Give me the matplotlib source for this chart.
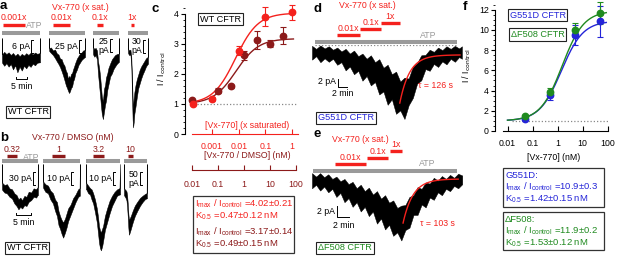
import numpy as np
import matplotlib
matplotlib.use('Agg')
import matplotlib.pyplot as plt
from matplotlib.patches import Rectangle
from matplotlib.transforms import blended_transform_factory
from matplotlib.ticker import LogLocator, MultipleLocator, NullFormatter

plt.rcParams['font.family'] = ['Liberation Sans', 'DejaVu Sans']
plt.rcParams['mathtext.default'] = 'regular'
plt.rcParams['font.size'] = 6.3

RED = '#f4211d'
DRED = '#8c1a1a'
GRAY = '#9a9a9a'
BLUE = '#2424d8'
GREEN = '#1f8a1f'

# ---------------- data ----------------
# panel a: WT CFTR, Vx-770 (x saturated), time in min, current in pA
a_doses = ['0.001x', '0.01x', '0.1x', '1x']
a_on = [0.5, 1.8, 1.8, 1.4]
a_off = [10.5, 9.5, 4.5, 2.5]
a_scale = [6, 25, 25, 30]
a1_t = [0, 0.1, 1.0, 2.0, 3.0, 4.0, 5.0, 6.0, 7.0, 8.0, 9.0, 10.0, 11.0, 12.0, 13.0, 14.0, 15.0, 16.0, 17.2, 17.3]
a1_hi = [0, -7.5, -6.4, -7.4, -6.6, -7.8, -6.9, -8.2, -7.2, -8.4, -7.3, -8.1, -7.0, -7.8, -6.8, -7.6, -6.7, -7.3, -6.9, 0]
a1_lo = [-11, -11.5, -12.8, -11.6, -13.2, -12.0, -14.5, -12.6, -15.8, -13.2, -15.0, -12.8, -14.0, -12.4, -13.3, -11.8, -12.6, -11.4, -11.2, -11.2]
a2_t = [0, 0.1, 0.9, 1.8, 2.7, 3.6, 4.3, 5.0, 5.7, 6.4, 7.0, 7.7, 8.2, 8.6, 9.1, 9.5, 10.0, 10.5, 11.0, 11.4,
        12.0, 12.7, 13.4, 14.1, 14.8, 15.5, 16.3, 16.4]
a2_hi = [0, -20, -19, -25, -23, -31, -33, -41, -42, -51, -55, -66, -70, -82, -76, -80, -72, -70, -62, -57,
         -49, -41, -36, -31, -29, -25, -24, 0]
a2_lo = [-20, -26, -30, -34, -40, -47, -52, -58, -66, -75, -84, -95, -100, -105, -110, -107, -100, -97, -86, -82,
         -70, -63, -54, -49, -44, -41, -38, -38]
a3_t = [0, 0.1, 0.6, 1.2, 1.8, 2.3, 2.8, 3.2, 3.6, 4.0, 4.5, 5.0, 5.5, 5.9, 6.5, 7.0, 7.8, 8.6, 9.3, 10.0, 10.8, 11.7, 11.8]
a3_hi = [0, -18, -21, -19, -24, -45, -58, -72, -92, -112, -122, -98, -90, -76, -68, -58, -49, -41, -37, -33, -31, -30, 0]
a3_lo = [-30, -32, -36, -33, -41, -70, -92, -110, -130, -146, -156, -142, -128, -121, -100, -90, -74, -68, -60, -55, -50, -46, -46]
a4_t = [0, 0.1, 0.6, 1.1, 1.5, 1.8, 2.1, 2.3, 2.6, 2.9, 3.4, 4.0, 4.6, 5.3, 6.0, 6.7, 7.4, 8.2, 9.0, 9.1]
a4_hi = [0, -26, -29, -27, -45, -90, -140, -165, -140, -126, -110, -96, -86, -74, -66, -60, -54, -47, -44, 0]
a4_lo = [-34, -36, -40, -38, -65, -130, -190, -208, -196, -176, -160, -138, -118, -106, -94, -84, -76, -66, -60, -60]

# panel b: WT CFTR, Vx-770 / DMSO (nM)
b_doses = ['0.32', '1', '3.2', '10']
b_on = [1.6, 2.9, 2.3, 1.3]
b_off = [4.8, 7.1, 5.8, 2.9]
b_scale = [30, 10, 10, 50]
b1_t = [0, 0.1, 0.8, 1.6, 2.4, 3.2, 4.0, 4.7, 5.3, 5.9, 6.5, 7.2, 7.9, 8.6, 9.4, 10.2, 11.0, 11.5, 11.6]
b1_hi = [0, -45, -50, -48, -58, -60, -70, -74, -84, -80, -86, -76, -78, -66, -68, -58, -60, -55, 0]
b1_lo = [-60, -62, -68, -70, -78, -82, -94, -100, -108, -102, -106, -98, -100, -90, -86, -78, -80, -74, -74]
b2_t = [0, 0.1, 0.8, 1.6, 2.4, 3.2, 3.9, 4.5, 5.0, 5.5, 6.0, 6.5, 7.1, 7.6, 8.1, 8.9, 9.7, 10.5, 11.3, 11.8, 11.9]
b2_hi = [0, -14, -16, -17, -21, -23, -28, -30, -37, -41, -44, -46, -43, -39, -35, -32, -27, -24, -20, -19, 0]
b2_lo = [-18, -19, -22, -23, -28, -31, -37, -41, -48, -51, -55, -58, -54, -50, -45, -40, -35, -30, -26, -25, -25]
b3_t = [0, 0.1, 0.7, 1.3, 1.8, 2.3, 2.9, 3.5, 3.9, 4.2, 4.5, 4.8, 5.2, 5.5, 6.1, 6.8, 7.6, 8.4, 9.2, 10.0, 10.8, 11.0]
b3_hi = [0, -15, -17, -19, -20, -23, -28, -35, -42, -49, -52, -54, -51, -49, -41, -35, -29, -25, -22, -20, -19, 0]
b3_lo = [-20, -20, -23, -24, -28, -31, -38, -46, -55, -62, -66, -68, -65, -61, -52, -46, -39, -33, -29, -25, -24, -24]
b4_t = [0, 0.1, 0.5, 0.8, 1.0, 1.2, 1.4, 1.6, 1.9, 2.2, 2.8, 3.5, 4.3, 5.2, 6.0, 6.8, 7.3, 7.4]
b4_hi = [0, -95, -100, -105, -120, -150, -190, -215, -208, -200, -180, -160, -145, -130, -122, -115, -112, 0]
b4_lo = [-120, -122, -130, -140, -165, -200, -245, -272, -262, -250, -225, -200, -180, -160, -146, -135, -132, -132]

# panel c: dose response, WT CFTR
sat_x = [0.0002, 0.001, 0.01, 0.1, 1]
sat_y = [1.0, 1.17, 2.77, 3.9, 4.04]
sat_err = [0.03, 0.07, 0.16, 0.32, 0.24]
dmso_x = [0.01, 0.1, 0.32, 1, 3.2, 10, 32]
dmso_y = [1.13, 1.44, 1.58, 2.61, 3.11, 3.0, 3.27]
dmso_err = [0.04, 0.08, 0.05, 0.15, 0.3, 0.12, 0.29]
sat_fit = (4.02, 0.47)
dmso_fit = (3.17, 0.49)

# panel d / e: mutant traces, sequential 0.01x, 0.1x, 1x
de_doses = ['0.01x', '0.1x', '1x']
d_on = [5.4, 10.3, 14.8]
d_off = [10.3, 14.8, 18.8]
d_t = [0, 0.9, 1.8, 2.7, 3.6, 4.5, 5.4, 6.3, 7.2, 8.1, 9.0, 9.9, 10.8, 11.7, 12.6, 13.5, 14.4, 15.3, 16.2,
       17.1, 18.0, 18.9, 19.8, 20.7, 21.6, 22.5, 23.4, 24.3, 25.2, 26.1, 27.0, 27.9, 28.8, 29.7, 30.6, 31.5, 32.1]
d_hi = [-0.2, -0.9, -0.1, -0.8, -0.3, -1.1, -0.6, -1.5, -0.9, -2.0, -1.3, -2.6, -2.0, -3.2, -2.4, -4.0, -3.3, -5.3, -4.6,
        -6.8, -6.2, -8.5, -7.6, -7.8, -5.0, -4.2, -2.4, -2.3, -1.1, -1.6, -0.6, -1.2, -0.3, -0.9, -0.2, -0.8, -0.3]
d_lo = [-3.4, -2.6, -4.0, -3.1, -3.9, -3.2, -4.6, -4.0, -5.9, -5.0, -6.8, -6.0, -8.3, -7.2, -9.4, -8.6, -11.5, -10.8, -13.9,
        -12.6, -16.0, -15.2, -17.2, -14.0, -12.3, -9.0, -8.2, -5.6, -6.0, -4.4, -5.1, -3.8, -4.5, -3.2, -3.9, -2.8, -3.2]
d_tau = 126
e_on = [4.0, 9.5, 13.4]
e_off = [9.3, 13.1, 15.6]
e_t = [0, 0.7, 1.4, 2.1, 2.8, 3.5, 4.2, 4.9, 5.6, 6.3, 7.0, 7.7, 8.4, 9.1, 9.8, 10.5, 11.2, 11.9, 12.6,
       13.3, 14.0, 14.7, 15.4, 16.1, 16.8, 17.5, 18.2, 18.9, 19.6, 20.3, 21.0, 21.7, 22.4, 23.1, 23.8, 24.5, 25.2, 25.9]
e_hi = [-0.2, -0.8, -0.2, -0.9, -0.4, -1.2, -0.8, -1.6, -1.2, -2.1, -1.7, -2.8, -2.2, -3.3, -2.7, -3.9, -3.3, -4.6, -4.0,
        -5.3, -4.9, -6.2, -5.8, -5.7, -4.3, -4.0, -2.6, -2.9, -1.8, -2.0, -1.0, -1.5, -0.7, -1.2, -0.5, -1.0, -0.3, -0.6]
e_lo = [-2.8, -2.2, -3.2, -2.5, -3.5, -2.9, -4.3, -3.6, -5.2, -4.5, -6.0, -5.2, -6.8, -6.0, -7.6, -6.8, -8.9, -8.0, -9.9,
        -9.1, -11.0, -10.4, -11.8, -10.0, -9.6, -7.4, -7.4, -5.6, -6.1, -4.4, -4.8, -3.5, -4.0, -2.9, -3.3, -2.4, -2.8, -2.1]
e_tau = 103

# panel f: mutant dose response (nM)
f_x = [0.05, 0.5, 5, 50]
g551d_y = [1.17, 3.55, 9.5, 10.85]
g551d_err = [0.1, 0.45, 0.95, 1.5]
df508_y = [1.45, 3.9, 10.0, 11.7]
df508_err = [0.1, 0.4, 0.65, 1.1]
g551d_fit = (10.9, 1.42)
df508_fit = (11.9, 1.53)

# ---------------- helpers ----------------
W, H = 617, 256
fig = plt.figure(figsize=(W / 100, H / 100), dpi=100)


def fbox(x0, y0, x1, y1):
    return [x0 / W, 1 - y1 / H, (x1 - x0) / W, (y1 - y0) / H]


def put(x, y, s, **kw):
    kw.setdefault('ha', 'center')
    kw.setdefault('va', 'center')
    return fig.text(x / W, 1 - y / H, s, **kw)


def frame(x0, y0, x1, y1, color='#333333', lw=0.9):
    fig.add_artist(Rectangle((x0 / W, 1 - y1 / H), (x1 - x0) / W, (y1 - y0) / H,
                             transform=fig.transFigure, fill=False, edgecolor=color, lw=lw))


def tagbox(x, y, s, color):
    put(x, y, s, color=color, fontsize=6.6,
        bbox=dict(boxstyle='square,pad=0.18', fc='white', ec='#222222', lw=0.8))


def hill(x, imax, k):
    return 1 + (imax - 1) * x / (x + k)


def segment(x0, y0, px_min, px_pA, t, hi, lo, depth):
    ax = fig.add_axes(fbox(x0, y0, x0 + t[-1] * px_min, y0 + depth * px_pA))
    ax.set_xlim(0, t[-1])
    ax.set_ylim(-depth, 0)
    ax.axis('off')
    ax.fill_between(t, lo, hi, color='k', lw=0.35, clip_on=False)
    ax.px_min = px_min
    ax.tr = blended_transform_factory(ax.transData, fig.transFigure)
    return ax


def app_bar(ax, t0, t1, ypx, color, lw, label=None, dy=7):
    ax.plot([t0, t1], [1 - ypx / H] * 2, color=color, lw=lw, solid_capstyle='butt',
            transform=ax.tr, clip_on=False)
    if label:
        ax.text((t0 + t1) / 2, 1 - (ypx - dy) / H, label, transform=ax.tr,
                ha='center', va='center', color=color)


def bracket(ax, t, top, size, label):
    tk = 2.2 / ax.px_min
    ax.plot([t + tk, t, t, t + tk], [top, top, top - size, top - size], color='k', lw=0.7,
            clip_on=False)
    ax.text(t - 1.2 / ax.px_min, top - size / 2, label, ha='right', va='center',
            multialignment='center', linespacing=1.0)


def time_bar(ax, t0, length, ypx, label):
    y = 1 - ypx / H
    up = 1.8 / H
    ax.plot([t0, t0, t0 + length, t0 + length], [y + up, y, y, y + up], color='k', lw=0.7,
            transform=ax.tr, clip_on=False)
    ax.text(t0 + length / 2, y - 7.5 / H, label, transform=ax.tr, ha='center', va='center')


# ---------------- panel a ----------------
a_traces = [(a1_t, a1_hi, a1_lo), (a2_t, a2_hi, a2_lo), (a3_t, a3_hi, a3_lo), (a4_t, a4_hi, a4_lo)]
a_x0 = [2, 49, 93, 128]
a_pxpa = [2.17, 0.5, 0.52, 0.43]
a_depth = [17, 115, 160, 212]
a_br = [(13.2, -0.9), (13.6, -4), (7.7, -2), (6.8, -4.6)]
a_ax = []
for i, (t, hi, lo) in enumerate(a_traces):
    ax = segment(a_x0[i], 38, 2.2, a_pxpa[i], t, hi, lo, a_depth[i])
    app_bar(ax, 0, t[-1], 33, GRAY, 2.9)
    app_bar(ax, a_on[i], a_off[i], 24.5, RED, 2.4, a_doses[i])
    lbl = f'{a_scale[i]} pA' if i < 2 else f'{a_scale[i]}\npA'
    bracket(ax, a_br[i][0], a_br[i][1], a_scale[i], lbl)
    a_ax.append(ax)
time_bar(a_ax[0], 6.4, 5, 79, '5 min')
put(80, 7, 'Vx-770 (x sat.)', color=RED)
put(34, 25.5, 'ATP', color=GRAY)
tagbox(28, 112, 'WT CFTR', 'k')
put(0, 9, 'a', ha='left', va='baseline', fontsize=9.5, fontweight='bold')

# ---------------- panel b ----------------
b_traces = [(b1_t, b1_hi, b1_lo), (b2_t, b2_hi, b2_lo), (b3_t, b3_hi, b3_lo), (b4_t, b4_hi, b4_lo)]
b_x0 = [2, 43, 86, 124]
b_pxpa = [0.42, 1.27, 1.27, 0.26]
b_depth = [112, 60, 70, 275]
b_br = [(10.0, -19), (9.0, -6.3), (8.7, -6.3), (5.2, -31)]
b_ax = []
for i, (t, hi, lo) in enumerate(b_traces):
    ax = segment(b_x0[i], 164, 3.1, b_pxpa[i], t, hi, lo, b_depth[i])
    app_bar(ax, 0, t[-1], 160.5, GRAY, 2.9)
    app_bar(ax, b_on[i], b_off[i], 156, DRED, 2.4, b_doses[i])
    lbl = f'{b_scale[i]} pA' if i < 3 else f'{b_scale[i]}\npA'
    bracket(ax, b_br[i][0], b_br[i][1], b_scale[i], lbl)
    b_ax.append(ax)
time_bar(b_ax[0], 4.5, 5, 215, '5 min')
put(73, 138, 'Vx-770 / DMSO (nM)', color=DRED)
put(31, 157, 'ATP', color=GRAY)
tagbox(27, 248, 'WT CFTR', 'k')
put(0, 141, 'b', ha='left', va='baseline', fontsize=9.5, fontweight='bold')

# ---------------- panel c ----------------
axc = fig.add_axes(fbox(185, 2, 298, 134))
axc.set_xscale('log')
axc.set_xlim(0.00538, 119)
axc.set_ylim(0, 4.385)
axc.patch.set_visible(False)
for s in ['top', 'right']:
    axc.spines[s].set_visible(False)
axc.spines['left'].set_bounds(0, 4)
axc.spines['bottom'].set_position(('outward', 26))
axc.spines['bottom'].set_bounds(0.01, 100)
axc.spines['bottom'].set_color(DRED)
axc.set_xticks([0.01, 0.1, 1, 10, 100], ['0.01', '0.1', '1', '10', '100'])
axc.xaxis.set_minor_locator(LogLocator(subs=np.arange(2, 10)))
axc.xaxis.set_minor_formatter(NullFormatter())
axc.tick_params(axis='x', which='both', direction='in', colors=DRED, pad=7)
axc.tick_params(axis='x', which='major', length=3.5, width=0.8)
axc.tick_params(axis='x', which='minor', length=2, width=0.6)
axc.set_yticks([0, 1, 2, 3, 4])
axc.yaxis.set_minor_locator(MultipleLocator(0.2))
axc.tick_params(axis='y', which='major', length=3, width=0.8, pad=1.5)
axc.tick_params(axis='y', which='minor', length=1.8, width=0.6)
axc.set_ylabel(r'I / I$_{\mathrm{control}}$', labelpad=4)
xc = np.logspace(-2, 1.9, 200)
axc.hlines(1, 0.015, 100, colors='#888888', linestyles=(0, (1, 1.6)), lw=0.9)
axc.plot(xc, hill(xc, *dmso_fit), color=DRED, lw=1)
axc.errorbar(dmso_x, dmso_y, yerr=dmso_err, fmt='o', color=DRED, ms=4.6, capsize=2.4,
             elinewidth=0.8, capthick=0.8)
axc.plot(xc, hill(xc, *sat_fit), color=RED, lw=1)

axr = axc.twiny()
axr.set_xscale('log')
axr.set_xlim(9.75e-5, 1.66)
for s in ['top', 'left', 'right']:
    axr.spines[s].set_visible(False)
axr.xaxis.set_ticks_position('bottom')
axr.spines['bottom'].set_visible(True)
axr.spines['bottom'].set_position(('outward', 0))
axr.spines['bottom'].set_bounds(1.78e-4, 1.66)
axr.spines['bottom'].set_color(RED)
axr.set_xticks([0.001, 0.01, 0.1, 1], ['0.001', '0.01', '0.1', '1'])
axr.xaxis.set_minor_locator(LogLocator(subs=np.arange(2, 10)))
axr.xaxis.set_minor_formatter(NullFormatter())
axr.tick_params(axis='x', which='both', direction='in', colors=RED, pad=6)
axr.tick_params(axis='x', which='major', length=3.5, width=0.8)
axr.tick_params(axis='x', which='minor', length=2, width=0.6)
axr.errorbar(sat_x, sat_y, yerr=sat_err, fmt='o', color=RED, ms=4.6, capsize=2.4,
             elinewidth=0.8, capthick=0.8)

put(247, 126, '[Vx-770] (x saturated)', color=RED)
put(247, 156, '[Vx-770 / DMSO] (nM)', color=DRED)
tagbox(220.5, 19, 'WT CFTR', 'k')
put(151, 12, 'c', ha='left', va='baseline', fontsize=9.5, fontweight='bold')

frame(193, 196, 294, 253)
put(195, 204, r'I$_{max}$ / I$_{control}$ =%.2f±0.21' % sat_fit[0], ha='left', color=RED, fontsize=6.8)
put(195, 216, r'K$_{0.5}$ =%.2f±0.12 nM' % sat_fit[1], ha='left', color=RED, fontsize=6.8)
put(195, 232, r'I$_{max}$ / I$_{control}$ =%.2f±0.14' % dmso_fit[0], ha='left', color=DRED, fontsize=6.8)
put(195, 244, r'K$_{0.5}$ =%.2f±0.15 nM' % dmso_fit[1], ha='left', color=DRED, fontsize=6.8)

# ---------------- panel d ----------------
axd = segment(312, 45, 4.67, 4.3, d_t, d_hi, d_lo, 18)
app_bar(axd, 0.6, 31.0, 42, GRAY, 2.9)
for i in range(3):
    app_bar(axd, d_on[i], d_off[i], [35, 29, 23][i], RED, 2.4, de_doses[i], dy=6.5)
axd.hlines(0, 0.6, 31.0, colors='#888888', linestyles=(0, (1, 1.6)), lw=0.9)
td = np.linspace(18.8, 31.7, 80)
axd.plot(td, -2.3 + (-13.5 + 2.3) * np.exp(-(td - 18.8) * 60 / d_tau), color=RED, lw=1)
axd.plot([5.6, 5.6, 7.6], [-7.8, -9.8, -9.8], color='k', lw=0.7, clip_on=False)
put(336, 82, '2 pA', ha='right')
put(343, 93, '2 min')
put(435, 85, 'τ = %d s' % d_tau, color=RED)
put(367, 5, 'Vx-770 (x sat.)', color=RED)
put(428, 35, 'ATP', color=GRAY)
tagbox(346, 118, 'G551D CFTR', BLUE)
put(313, 12, 'd', ha='left', va='baseline', fontsize=9.5, fontweight='bold')

# ---------------- panel e ----------------
axe = segment(312, 172, 5.8, 5.8, e_t, e_hi, e_lo, 12)
app_bar(axe, 0.2, 25.0, 170.5, GRAY, 2.9)
for i in range(3):
    app_bar(axe, e_on[i], e_off[i], [164, 158, 151][i], RED, 2.4, de_doses[i], dy=6.5)
te = np.linspace(15.7, 25.2, 80)
axe.plot(te, -1.2 + (-8.8 + 1.2) * np.exp(-(te - 15.7) * 60 / e_tau), color=RED, lw=1)
axe.plot([4.3, 4.3, 6.3], [-5.8, -7.8, -7.8], color='k', lw=0.7, clip_on=False)
put(335, 211, '2 pA', ha='right')
put(344, 225, '2 min')
put(437, 223, 'τ = %d s' % e_tau, color=RED)
put(360, 140, 'Vx-770 (x sat.)', color=RED)
put(427, 164, 'ATP', color=GRAY)
tagbox(345, 248, 'ΔF508 CFTR', GREEN)
put(313, 137, 'e', ha='left', va='baseline', fontsize=9.5, fontweight='bold')

# ---------------- panel f ----------------
axf = fig.add_axes(fbox(495, 0, 612, 131))
axf.set_xscale('log')
axf.set_xlim(0.00316, 151)
axf.set_ylim(0, 12.97)
axf.patch.set_visible(False)
for s in ['top', 'right']:
    axf.spines[s].set_visible(False)
axf.spines['left'].set_bounds(0, 12)
axf.spines['bottom'].set_bounds(0.0066, 105)
axf.set_xticks([0.01, 0.1, 1, 10, 100], ['0.01', '0.1', '1', '10', '100'])
axf.xaxis.set_minor_locator(LogLocator(subs=np.arange(2, 10)))
axf.xaxis.set_minor_formatter(NullFormatter())
axf.tick_params(axis='x', which='both', direction='in', pad=6)
axf.tick_params(axis='x', which='major', length=3.5, width=0.8)
axf.tick_params(axis='x', which='minor', length=2, width=0.6)
axf.set_yticks(range(0, 13, 2))
axf.yaxis.set_minor_locator(MultipleLocator(0.5))
axf.tick_params(axis='y', which='major', length=3, width=0.8, pad=1.5)
axf.tick_params(axis='y', which='minor', length=1.8, width=0.6)
axf.set_ylabel(r'I / I$_{\mathrm{control}}$', labelpad=4)
xf = np.logspace(-2, 1.95, 200)
axf.hlines(1, 0.015, 100, colors='#888888', linestyles=(0, (1, 1.6)), lw=0.9)
axf.plot(xf, hill(xf, *g551d_fit), color=BLUE, lw=1)
axf.plot(xf, hill(xf, *df508_fit), color=GREEN, lw=1)
axf.errorbar(f_x, g551d_y, yerr=g551d_err, fmt='o', color=BLUE, ms=4.6, capsize=2.4,
             elinewidth=0.8, capthick=0.8)
axf.errorbar(f_x, df508_y, yerr=df508_err, fmt='o', color=GREEN, ms=4.6, capsize=2.4,
             elinewidth=0.8, capthick=0.8)
put(554, 157, '[Vx-770] (nM)')
tagbox(537.5, 15, 'G551D CFTR', BLUE)
tagbox(537.5, 34.5, 'ΔF508 CFTR', GREEN)
put(463, 10, 'f', ha='left', va='baseline', fontsize=9.5, fontweight='bold')

frame(503, 168, 604, 207)
put(505, 175, 'G551D:', ha='left', color=BLUE, fontsize=6.8)
put(505, 187, r'I$_{max}$ / I$_{control}$ =%.1f±0.3' % g551d_fit[0], ha='left', color=BLUE, fontsize=6.8)
put(505, 199, r'K$_{0.5}$ =%.2f±0.15 nM' % g551d_fit[1], ha='left', color=BLUE, fontsize=6.8)
frame(503, 212, 604, 250)
put(505, 219, 'ΔF508:', ha='left', color=GREEN, fontsize=6.8)
put(505, 231, r'I$_{max}$ / I$_{control}$ =%.1f±0.2' % df508_fit[0], ha='left', color=GREEN, fontsize=6.8)
put(505, 243, r'K$_{0.5}$ =%.2f±0.12 nM' % df508_fit[1], ha='left', color=GREEN, fontsize=6.8)

fig.savefig('out.png', dpi=100)
